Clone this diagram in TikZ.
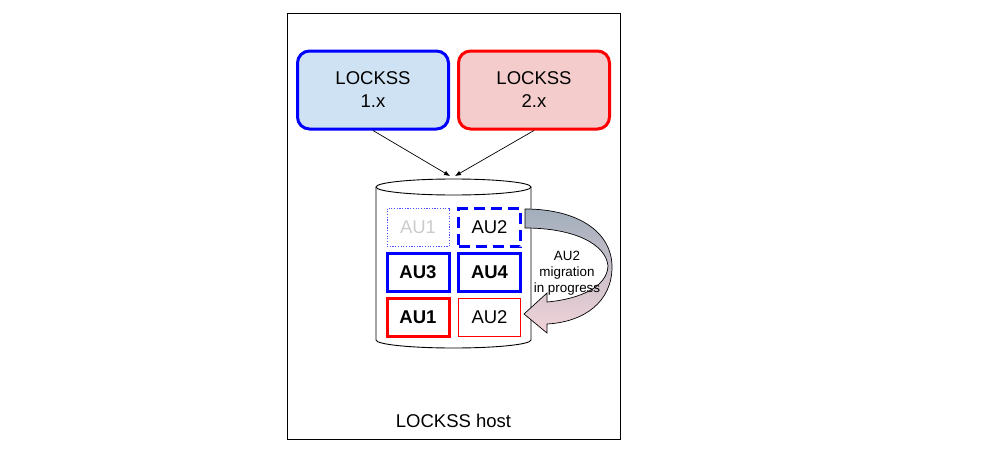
\documentclass[tikz,border=0pt]{standalone}
\usepackage{fontspec}
\setmainfont{Liberation Sans}
\usetikzlibrary{arrows.meta,positioning}
\definecolor{VerBlue}{HTML}{0000FF}
\definecolor{VerRed}{HTML}{FF0000}
\definecolor{PaleBlue}{HTML}{CFE2F3}
\definecolor{PaleRed}{HTML}{F4CCCC}
\definecolor{GhostGray}{HTML}{CCCCCC}
\definecolor{MoveTop}{HTML}{A2AEBC}
\definecolor{MoveBot}{HTML}{F2D3D8}

\begin{document}
\begin{tikzpicture}[x=1pt, y=-1pt,
  daemon/.style={rounded corners=12pt, line width=3pt, minimum width=151pt, minimum height=78pt, align=center, font=\fontsize{18.5}{23}\selectfont},
  au/.style={minimum width=62pt, minimum height=38pt, font=\fontsize{18.5}{22}\selectfont},
  arr/.style={-{Latex[length=6pt,width=5pt]}, line width=0.7pt, black}
]
\useasboundingbox (0,0) rectangle (983,463);
% host frame
\node[draw, line width=0.9pt, minimum width=333pt, minimum height=426pt, inner sep=0pt] (host) at (453.5,226) {};
\node[font=\fontsize{18.5}{22}\selectfont] (hostlbl) at (453.5,421) {LOCKSS host};

% the two daemons
\node[daemon, draw=VerBlue, fill=PaleBlue] (v1) at (373,90) {LOCKSS\\1.x};
\node[daemon, draw=VerRed, fill=PaleRed] (v2) at (534,90) {LOCKSS\\2.x};

% repository cylinder
\draw[line width=0.9pt, fill=white] (376,187) -- (376,340) arc[start angle=180, end angle=0, x radius=77.5, y radius=8] -- (531,187);
\draw[line width=0.9pt, fill=white] (453.5,187) ellipse[x radius=77.5, y radius=8];
\coordinate (in1) at (450,176);
\coordinate (in2) at (455,176);
\draw[arr] (v1.south) -- (in1);
\draw[arr] (v2.south) -- (in2);

% archival units
\node[au, draw=VerBlue!70, line width=0.8pt, dash pattern=on 1.2pt off 1.5pt, text=GhostGray] (a1) at (418,227.5) {AU1};
\node[au, draw=VerBlue, line width=3pt, dash pattern=on 11pt off 6pt] (a2) at (489.5,227.5) {AU2};
\node[au, draw=VerBlue, line width=3pt, font=\fontsize{18.5}{22}\selectfont\bfseries] (a3) at (418,272) {AU3};
\node[au, draw=VerBlue, line width=3pt, font=\fontsize{18.5}{22}\selectfont\bfseries] (a4) at (489.5,272) {AU4};
\node[au, draw=VerRed, line width=3pt, font=\fontsize{18.5}{22}\selectfont\bfseries] (b1) at (418,317) {AU1};
\node[au, draw=VerRed, line width=0.8pt] (b2) at (489.5,317) {AU2};

% migration arrow
\draw[line width=0.7pt, top color=MoveTop, bottom color=MoveBot]
  (525,209) .. controls (578,209) and (612,232) .. (612,267)
  .. controls (612,302) and (584,322) .. (547,324)
  -- (547,333) -- (524,314) -- (547,293) -- (547,302)
  .. controls (580,299) and (607,287) .. (608,266)
  .. controls (606,244) and (574,228) .. (525,228) -- cycle;
\node[align=center, font=\fontsize{13.4}{16}\selectfont] (mig) at (567,273) {AU2\\migration\\in progress};
\end{tikzpicture}
\end{document}
